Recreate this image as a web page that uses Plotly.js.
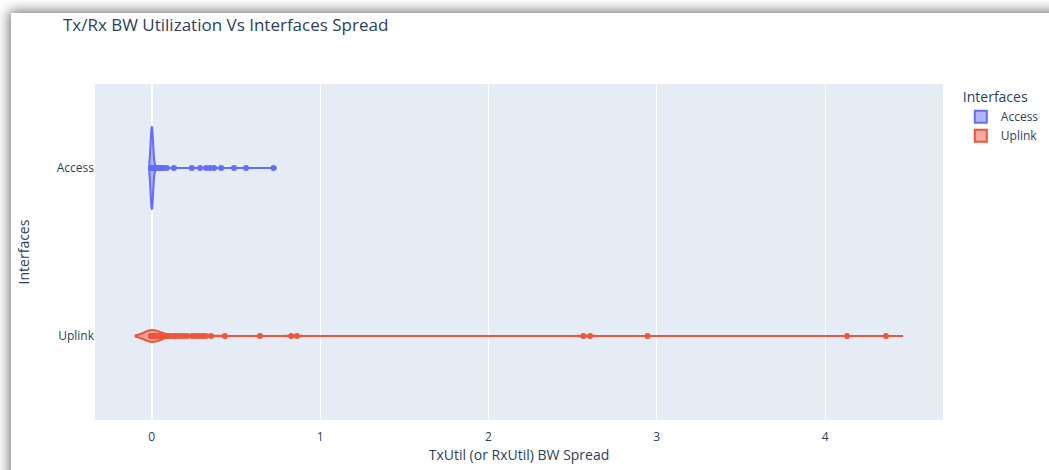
<!DOCTYPE html>
<html>
<head>
<meta charset="utf-8">
<script src="https://cdn.plot.ly/plotly-3.0.1.min.js"></script>
<style>
  html, body { margin: 0; padding: 0; background: #ffffff; overflow: hidden; }
  #frame {
    position: absolute; left: 11px; top: 13px;
    width: 1100px; height: 520px;
    background: #ffffff;
    box-shadow: 0 0 12px 2px rgba(0, 0, 0, 0.55);
  }
  #chart { position: absolute; left: 0; top: 0; width: 1060px; height: 480px; }
</style>
</head>
<body>
<div id="frame"><div id="chart"></div></div>
<script>
// Interface groups shown on the category axis
const interfaceNames = ['Access', 'Uplink'];

// TxUtil (or RxUtil) bandwidth spread per Access interface
const accessSpread = [
  0, 0, 0, 0, 0, 0, 0, 0, 0, 0,
  0, 0, 0, 0, 0, 0, 0, 0, 0, 0,
  0, 0, 0, 0, 0, 0, 0, 0, 0, 0,
  0, 0, 0, 0, 0, 0, 0, 0, 0, 0,
  0.001, 0.002, 0.002, 0.003, 0.004, 0.005, 0.006, 0.008,
  0.015, 0.02, 0.03, 0.04, 0.05, 0.06, 0.07, 0.09,
  0.132, 0.238, 0.287, 0.323, 0.346, 0.370, 0.412, 0.489, 0.560, 0.723
];

// TxUtil (or RxUtil) bandwidth spread per Uplink interface
const uplinkSpread = [
  0, 0, 0, 0, 0, 0, 0, 0, 0, 0,
  0, 0, 0, 0, 0, 0, 0, 0, 0, 0,
  0, 0, 0, 0, 0, 0, 0, 0, 0, 0,
  0, 0, 0, 0, 0, 0, 0, 0, 0, 0,
  0, 0, 0, 0, 0,
  0.005, 0.01, 0.02, 0.03, 0.04, 0.05, 0.06, 0.08, 0.09, 0.10,
  0.12, 0.14, 0.15, 0.17, 0.19, 0.21,
  0.24, 0.26, 0.28, 0.30, 0.32,
  0.352, 0.434, 0.643, 0.828, 0.862,
  2.564, 2.604, 2.945, 4.130, 4.361
];

const seriesColors = ['#636efa', '#EF553B'];
const seriesValues = [accessSpread, uplinkSpread];

// Both violins share one scale group so their densities are comparable
const traces = interfaceNames.map((name, i) => ({
  type: 'violin',
  orientation: 'h',
  name: name,
  legendgroup: name,
  x: seriesValues[i],
  y: seriesValues[i].map(() => name),
  line: { color: seriesColors[i], width: 2 },
  marker: { color: seriesColors[i], size: 6 },
  points: 'all',
  pointpos: 0,
  jitter: 0,
  scalegroup: 'interfaces',
  scalemode: 'width'
}));

const layout = {
  width: 1060,
  height: 480,
  margin: { l: 84, r: 128, t: 71, b: 73 },
  paper_bgcolor: '#ffffff',
  plot_bgcolor: '#E5ECF6',
  font: { family: '"Open Sans", verdana, arial, sans-serif', size: 12, color: '#2a3f5f' },
  title: {
    text: 'Tx/Rx BW Utilization Vs Interfaces Spread',
    font: { size: 17, color: '#2a3f5f' },
    x: 0.049, xanchor: 'left',
    y: 0.975, yanchor: 'middle', yref: 'container'
  },
  xaxis: {
    title: { text: 'TxUtil (or RxUtil) BW Spread', standoff: 6 },
    range: [-0.337, 4.70],
    autorange: false,
    gridcolor: '#ffffff',
    zerolinecolor: '#ffffff',
    zerolinewidth: 2,
    showline: false,
    ticks: '',
    ticklabelstandoff: 8
  },
  yaxis: {
    title: { text: 'Interfaces', standoff: 23 },
    type: 'category',
    categoryarray: interfaceNames,
    range: [1.5, -0.5],
    autorange: false,
    showgrid: false,
    zeroline: false,
    showline: false,
    ticks: ''
  },
  violinmode: 'overlay',
  legend: {
    title: { text: 'Interfaces' },
    x: 1.021,
    tracegroupgap: 0
  },
  showlegend: true
};

Plotly.newPlot('chart', traces, layout, { displayModeBar: false, staticPlot: true });
</script>
</body>
</html>
